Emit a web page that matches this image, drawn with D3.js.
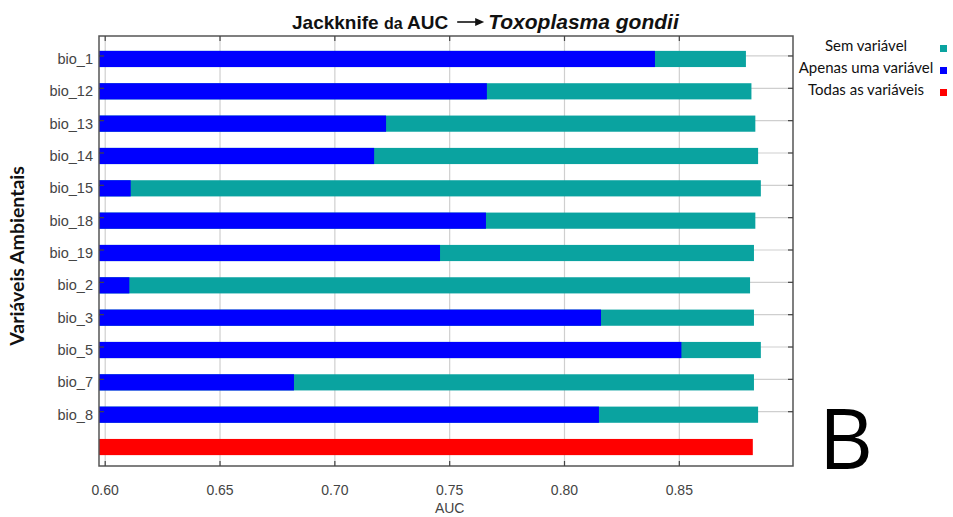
<!DOCTYPE html>
<html>
<head>
<meta charset="utf-8">
<script src="https://cdn.jsdelivr.net/npm/d3@7"></script>
<style>
  html, body { margin: 0; padding: 0; background: #fff; }
  svg { display: block; }
</style>
</head>
<body>
<svg id="chart" width="953" height="517"></svg>
<script>
// ---- data ----
const categories = ["bio_1","bio_12","bio_13","bio_14","bio_15","bio_18","bio_19","bio_2","bio_3","bio_5","bio_7","bio_8"];
const withoutVariable = [0.8790,0.8814,0.8831,0.8843,0.8855,0.8831,0.8825,0.8808,0.8825,0.8855,0.8825,0.8843];
const withOnlyVariable = [0.8394,0.7662,0.7223,0.7171,0.6111,0.7658,0.7458,0.6105,0.8159,0.8509,0.6822,0.8150];
const allVariablesLabel = "all";
const allVariables = 0.8820;
const xTicks = [0.60,0.65,0.70,0.75,0.80,0.85];
const legendLabels = ["Sem variável","Apenas uma variável","Todas as variáveis"];
const legendColors = ["#0aa3a0","#0000ff","#ff0000"];

const svg = d3.select("#chart");
const L = 99, R = 793, T = 36, B = 466;

const x = d3.scaleLinear().domain([0.5973, 0.8995]).range([L, R]);
const rows = categories.concat([allVariablesLabel]);
const y = d3.scaleBand().domain(rows).range([42.8, 463.2]).paddingInner(0.5).paddingOuter(0.25);

// gridlines
const g = svg.append("g");
g.selectAll("line.vg").data(xTicks).join("line")
  .attr("x1", d => x(d)).attr("x2", d => x(d))
  .attr("y1", T).attr("y2", B)
  .attr("stroke", "#cfcfcf").attr("stroke-width", 1.2);
g.selectAll("line.hg").data(categories).join("line")
  .attr("x1", L).attr("x2", R)
  .attr("y1", d => y(d) + y.bandwidth()/2 - 3).attr("y2", d => y(d) + y.bandwidth()/2 - 3)
  .attr("stroke", "#cfcfcf").attr("stroke-width", 1.2);

// bars
const x0 = x.domain()[0];
g.selectAll("rect.teal").data(categories).join("rect")
  .attr("x", x(x0)).attr("y", d => y(d))
  .attr("width", (d,i) => x(withoutVariable[i]) - x(x0))
  .attr("height", y.bandwidth())
  .attr("fill", legendColors[0]);
g.selectAll("rect.blue").data(categories).join("rect")
  .attr("x", x(x0)).attr("y", d => y(d))
  .attr("width", (d,i) => x(withOnlyVariable[i]) - x(x0))
  .attr("height", y.bandwidth())
  .attr("fill", legendColors[1]);
g.append("rect")
  .attr("x", x(x0)).attr("y", y(allVariablesLabel))
  .attr("width", x(allVariables) - x(x0))
  .attr("height", y.bandwidth())
  .attr("fill", legendColors[2]);

// frame
svg.append("rect").attr("x", L).attr("y", T).attr("width", R-L).attr("height", B-T)
  .attr("fill", "none").attr("stroke", "#555").attr("stroke-width", 1.5);

// ticks (inward)
const tk = svg.append("g").attr("stroke", "#444").attr("stroke-width", 1.2);
xTicks.forEach(v => {
  tk.append("line").attr("x1", x(v)).attr("x2", x(v)).attr("y1", B).attr("y2", B-5);
  tk.append("line").attr("x1", x(v)).attr("x2", x(v)).attr("y1", T).attr("y2", T+5);
});
categories.forEach(c => {
  const yy = y(c) + y.bandwidth()/2 - 3;
  tk.append("line").attr("x1", R).attr("x2", R-5).attr("y1", yy).attr("y2", yy);
  tk.append("line").attr("x1", L).attr("x2", L+5).attr("y1", yy).attr("y2", yy);
});

// x tick labels
svg.append("g").selectAll("text").data(xTicks).join("text")
  .attr("x", d => x(d)).attr("y", 495)
  .attr("text-anchor", "middle")
  .attr("font-family", "Liberation Sans, Arial, sans-serif")
  .attr("font-size", 14).attr("fill", "#444")
  .text(d => d3.format(".2f")(d));
svg.append("text").attr("x", x(0.75)).attr("y", 513)
  .attr("text-anchor", "middle")
  .attr("font-family", "Liberation Sans, Arial, sans-serif")
  .attr("font-size", 14).attr("fill", "#444").text("AUC");

// y labels
svg.append("g").selectAll("text").data(categories).join("text")
  .attr("x", 93).attr("y", d => y(d) + y.bandwidth()/2 + 5)
  .attr("text-anchor", "end")
  .attr("font-family", "Liberation Sans, Arial, sans-serif")
  .attr("font-size", 14.5).attr("fill", "#444")
  .text(d => d);

// y title
svg.append("text")
  .attr("transform", "translate(24,256) rotate(-90)")
  .attr("text-anchor", "middle")
  .attr("font-family", "Lato, sans-serif")
  .attr("font-weight", "bold").attr("font-size", 19.5).attr("fill", "#111")
  .text("Variáveis Ambientais");

// title
const t1 = svg.append("text").attr("x", 292).attr("y", 29)
  .attr("font-family", "Liberation Sans, Arial, sans-serif")
  .attr("font-weight", "bold").attr("font-size", 19).attr("fill", "#111");
t1.append("tspan").text("Jackknife ");
t1.append("tspan").attr("font-size", 16).text("da ");
t1.append("tspan").text("AUC");
const t1end = 292 + t1.node().getComputedTextLength();
const ax0 = t1end + 9, ay = 22;
svg.append("line").attr("x1", ax0).attr("x2", ax0 + 20).attr("y1", ay).attr("y2", ay)
  .attr("stroke", "#111").attr("stroke-width", 1.6);
svg.append("path")
  .attr("d", `M${ax0+18},${ay-4} L${ax0+27},${ay} L${ax0+18},${ay+4} Z`)
  .attr("fill", "#111");
svg.append("text").attr("x", ax0 + 31).attr("y", 29)
  .attr("font-family", "Liberation Sans, Arial, sans-serif")
  .attr("font-weight", "bold").attr("font-style", "italic")
  .attr("font-size", 21).attr("fill", "#111")
  .text("Toxoplasma gondii");

// legend
const lg = svg.append("g");
legendLabels.forEach((t, i) => {
  const yy = 46 + i * 22;
  lg.append("text").attr("x", 866).attr("y", yy + 5)
    .attr("text-anchor", "middle")
    .attr("font-family", "Lato, sans-serif")
    .attr("font-size", 15).attr("fill", "#111").text(t);
  lg.append("rect").attr("x", 940).attr("y", yy - 1).attr("width", 7).attr("height", 7)
    .attr("fill", legendColors[i]);
});

// panel letter
svg.append("text").attr("x", 846).attr("y", 469)
  .attr("text-anchor", "middle")
  .attr("font-family", "Open Sans, sans-serif")
  .attr("font-size", 84).attr("fill", "#000").text("B");
</script>
</body>
</html>
